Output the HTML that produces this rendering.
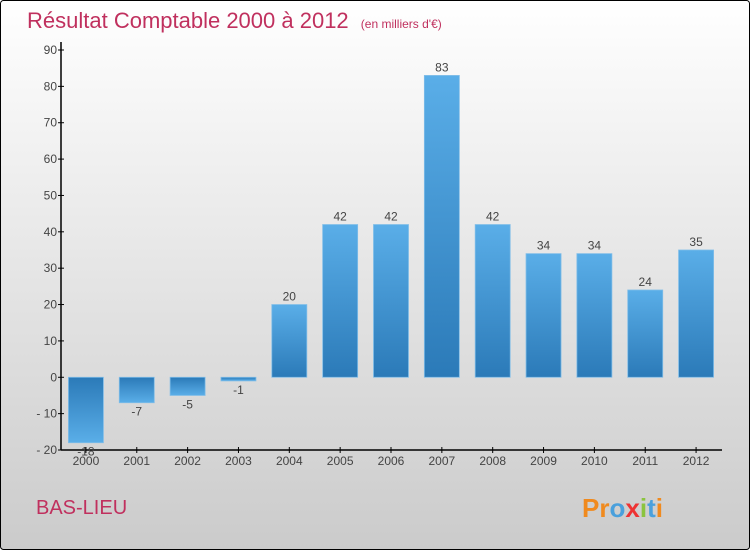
<!DOCTYPE html>
<html><head><meta charset="utf-8"><style>
body{margin:0;}
#wrap{position:relative;width:750px;height:550px;}
svg{display:block;font-family:"Liberation Sans","DejaVu Sans",sans-serif;}
</style></head><body>
<div id="wrap">
<svg id="chart" width="750" height="550">
<defs>
<linearGradient id="bg" x1="0" y1="0" x2="0" y2="1"><stop offset="0" stop-color="#ffffff"/><stop offset="1" stop-color="#cbcbcb"/></linearGradient>
<linearGradient id="gpos" x1="0" y1="0" x2="0" y2="1"><stop offset="0" stop-color="#5aaee8"/><stop offset="1" stop-color="#2b7ab8"/></linearGradient>
<linearGradient id="gneg" x1="0" y1="0" x2="0" y2="1"><stop offset="0" stop-color="#2b7ab8"/><stop offset="1" stop-color="#5aaee8"/></linearGradient>
</defs>
<rect x="0.5" y="0.5" width="749" height="549" rx="3" fill="url(#bg)" stroke="#000"/>
<text x="27" y="28" font-size="22" fill="#c0305e">Résultat Comptable 2000 à 2012 <tspan font-size="12" dx="6">(en milliers d'€)</tspan></text>
<text x="36" y="514" font-size="20" fill="#c0305e">BAS-LIEU</text>
<text x="582" y="517" font-size="26" font-weight="bold"><tspan fill="#f08a1e">Pr</tspan><tspan fill="#4aa0dc">o</tspan><tspan fill="#e33">x</tspan><tspan fill="#8bc43f">i</tspan><tspan fill="#4aa0dc">t</tspan><tspan fill="#f08a1e">i</tspan></text>
<g id="plot"></g>
</svg>
</div>
<script>
const categories=["2000","2001","2002","2003","2004","2005","2006","2007","2008","2009","2010","2011","2012"];
const values=[-18,-7,-5,-1,20,42,42,83,42,34,34,24,35];
const yTicks=[-20,-10,0,10,20,30,40,50,60,70,80,90];
const NS="http://www.w3.org/2000/svg";
const g=document.getElementById('plot');
const x0=61,x1=722,yTop=50,yBot=450,vMin=-20,vMax=90;
function y(v){return yBot-(v-vMin)/(vMax-vMin)*(yBot-yTop);}
const step=(x1-x0)/categories.length;
function xc(i){return x0+step*(i+0.5)-0.5;}
function el(t,a,txt){const e=document.createElementNS(NS,t);for(const k in a)e.setAttribute(k,a[k]);if(txt!==undefined)e.textContent=txt;g.appendChild(e);return e;}
let ax=el('line',{x1:x0,y1:yTop-8,x2:x0,y2:yBot,stroke:'#000','stroke-width':1.5});

let bx=el('line',{x1:x0,y1:yBot,x2:x1,y2:yBot,stroke:'#000','stroke-width':1.5});

yTicks.forEach(t=>{
 let l=el('line',{x1:x0-3,y1:y(t),x2:x0+3,y2:y(t),stroke:'#000'});
 
 let tx=el('text',{x:x0-4,y:y(t)+4,'font-size':12,fill:'#444','text-anchor':'end'},t<0?'- '+(-t):t);
 
});
categories.forEach((c,i)=>{
 const v=values[i],cx=xc(i),w=35;
 const top=Math.min(y(v),y(0)),h=Math.abs(y(v)-y(0));
 let r=el('rect',{x:cx-w/2,y:top,width:w,height:Math.max(h,1),fill:v>=0?'url(#gpos)':'url(#gneg)',stroke:'#7fbde8','stroke-width':0.8});
 
 let vl=el('text',{x:cx,y:v>=0?y(v)-4:y(v)+13,'font-size':12,fill:'#444','text-anchor':'middle'},v);
 
 let tk=el('line',{x1:cx,y1:yBot-3,x2:cx,y2:yBot+3,stroke:'#000'});
 
 let xl=el('text',{x:cx,y:yBot+15,'font-size':12,fill:'#444','text-anchor':'middle'},c);
 
});
</script>
</body></html>
